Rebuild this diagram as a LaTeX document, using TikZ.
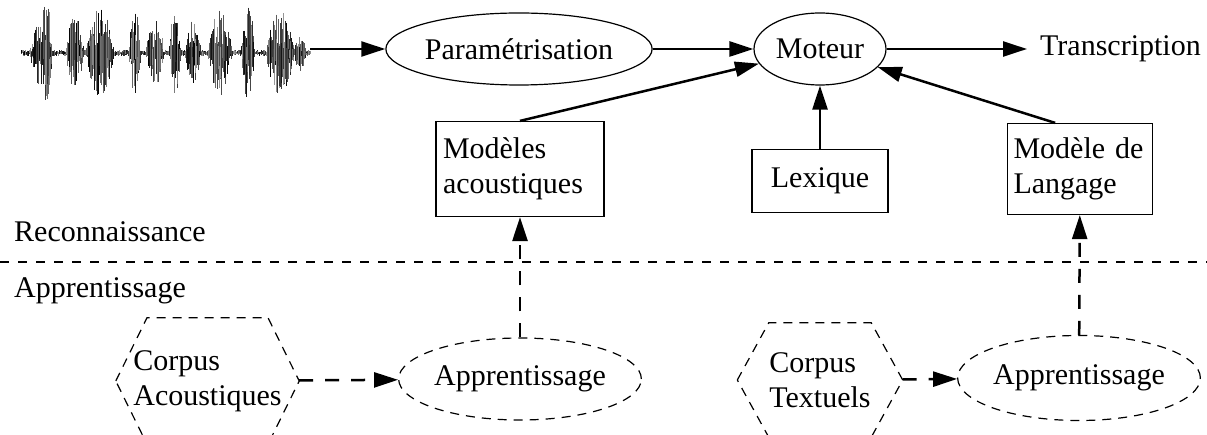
\documentclass[tikz,border=0pt]{standalone}
\usepackage{fontspec}
\setmainfont{Liberation Serif}
\usetikzlibrary{arrows.meta,shapes.geometric,calc}
\begin{document}
\begin{tikzpicture}[x=1pt,y=-1pt,
  every node/.style={font=\fontsize{30}{35}\selectfont},
  ell/.style={draw, ellipse, line width=1.2pt, inner sep=0pt},
  dell/.style={ell, dash pattern=on 9pt off 7pt},
  box/.style={draw, rectangle, line width=1.2pt, inner sep=0pt},
  arr/.style={line width=2.5pt, -{Triangle[length=24pt,width=15pt]}},
  darr/.style={arr, dash pattern=on 14pt off 12pt},
  hexb/.style={line width=1.2pt, dash pattern=on 9pt off 7pt},
  sep/.style={line width=1.2pt, dash pattern=on 9pt off 9pt},
  declare function={bump(\x,\c,\w,\h)=\h*max(0,1-((\x-\c)/\w)*((\x-\c)/\w));}
]
\useasboundingbox (0,0) rectangle (1207,435);
\clip (0,0) rectangle (1207,435);

% waveform
\pgfmathsetseed{12}
\begin{scope}[line width=0.55pt]
\foreach \x in {21,21.5,...,310}{
  \pgfmathsetmacro\e{min(48,3+bump(\x,40,10,30)+bump(\x,47,5,42)+bump(\x,75,9,35)+bump(\x,100,14,42)+bump(\x,135,6,45)+bump(\x,155,9,30)+bump(\x,175,6,40)+bump(\x,193,8,30)+bump(\x,220,12,40)+bump(\x,248,7,45)+bump(\x,280,14,40)+bump(\x,300,6,15))}
  \pgfmathsetmacro\a{\e*(0.1+0.9*rnd)}
  \pgfmathsetmacro\b{\e*(0.1+0.9*rnd)}
  \pgfmathsetmacro\g{int(40+60*rnd)}
  \draw[black!\g] (\x,53-\a) -- (\x,53+\b);
}
\end{scope}
\coordinate (wave) at (310,49);

% recognition part
\node[ell, minimum width=224pt, minimum height=72pt] (param) at (519,49) {Paramétrisation};
\node[ell, minimum width=132pt, minimum height=72pt] (moteur) at (820,49) {Moteur};
\node[anchor=west, inner xsep=13pt, inner ysep=0pt] (trans) at (1027,49) {Transcription};

\node[box, minimum width=168pt, minimum height=95pt, text width=154pt, align=left] (modac) at (520,169) {Modèles\\acoustiques};
\node[box, minimum width=136pt, minimum height=63pt] (lex) at (820,181) {Lexique};
\node[box, minimum width=145pt, minimum height=91pt, text width=133pt, align=left] (lang) at (1080,169) {Modèle de\\Langage};
\coordinate (langtop) at ($(lang.north west)!0.33!(lang.north east)$);

\draw[arr] (wave) -- (param);
\draw[arr] (param) -- (moteur);
\draw[arr] (moteur) -- (trans.west);
\draw[arr] (modac.north) -- (moteur);
\draw[arr] (lex) -- (moteur);
\draw[arr] (langtop) -- (moteur);

% separator
\node[anchor=base west, inner sep=0pt] (reco) at (14,242) {Reconnaissance};
\node[anchor=base west, inner sep=0pt] (appr) at (14,298) {Apprentissage};
\coordinate (sepL) at (0,262);
\coordinate (sepR) at (1207,262);
\draw[sep] (sepL) -- (sepR);

% training part
\node[dell, minimum width=226pt, minimum height=82pt] (app1) at (520,379) {Apprentissage};
\node[dell, minimum width=228pt, minimum height=85pt] (app2) at (1079,378) {Apprentissage};

\node[minimum width=183pt, minimum height=126pt, inner sep=0pt, align=left] (hexA) at (207.5,381) {Corpus\\Acoustiques};
\draw[hexb] (hexA.west) -- ($(hexA.north west)!0.17!(hexA.north east)$) -- ($(hexA.north west)!0.83!(hexA.north east)$) -- (hexA.east) -- ($(hexA.south west)!0.83!(hexA.south east)$) -- ($(hexA.south west)!0.17!(hexA.south east)$) -- cycle;

\node[minimum width=165pt, minimum height=114pt, inner sep=0pt, align=left] (hexB) at (820,380) {Corpus\\Textuels};
\draw[hexb] (hexB.west) -- ($(hexB.north west)!0.19!(hexB.north east)$) -- ($(hexB.north west)!0.81!(hexB.north east)$) -- (hexB.east) -- ($(hexB.south west)!0.81!(hexB.south east)$) -- ($(hexB.south west)!0.19!(hexB.south east)$) -- cycle;

\draw[darr] (app1) -- (modac);
\draw[darr] (app2) -- (lang);
\draw[darr] (hexA) -- (app1);
\draw[darr] (hexB) -- (app2);
\end{tikzpicture}
\end{document}
